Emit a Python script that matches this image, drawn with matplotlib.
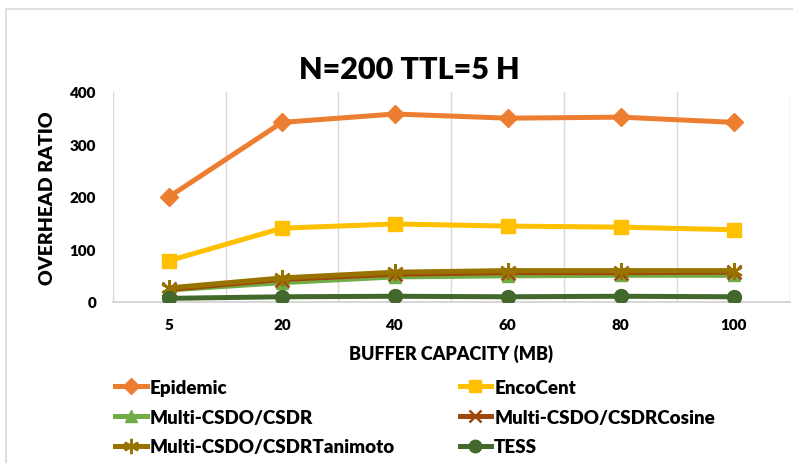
import matplotlib
matplotlib.use("Agg")
import matplotlib.pyplot as plt
from matplotlib.patches import Rectangle
from matplotlib.lines import Line2D

plt.rcParams['font.family'] = ['Lato', 'DejaVu Sans']
plt.rcParams['font.weight'] = 'heavy'

buffer_sizes = ["5", "20", "40", "60", "80", "100"]
epidemic = [200, 342, 358, 350, 352, 342]
encocent = [78, 140, 148, 144, 142, 137]
csdr = [22, 36, 47, 49, 50, 50]
csdr_cosine = [23, 42, 52, 55, 55, 56]
csdr_tanimoto = [26, 45, 56, 59, 59, 59]
tess = [6, 9, 10, 9, 10, 9]

series = [
    ("Epidemic", epidemic, "#ED7D31", "D", 9),
    ("EncoCent", encocent, "#FFC000", "s", 10),
    ("Multi-CSDO/CSDR", csdr, "#70AD47", "^", 9),
    ("Multi-CSDO/CSDRCosine", csdr_cosine, "#9E480E", "x", 10),
    ("Multi-CSDO/CSDRTanimoto", csdr_tanimoto, "#997300", (6, 2, 0), 12),
    ("TESS", tess, "#43682B", "o", 10),
]

fig = plt.figure(figsize=(7.93, 4.64), dpi=100)
fig.patches.append(Rectangle((6 / 793, -0.1), 1.2, 1 - 10 / 464 + 0.1,
                             transform=fig.transFigure, facecolor="none",
                             edgecolor="#D9D9D9", linewidth=1.2))

ax = fig.add_axes([112.7 / 793, 1 - 302.5 / 464, (790 - 112.7) / 793, (302.5 - 93) / 464])
x = list(range(len(buffer_sizes)))


def edge_width(marker):
    return 1.8 if marker in ("x", (6, 2, 0)) else 1


for name, vals, color, marker, ms in series:
    ax.plot(x, vals, color=color, linewidth=3.6, marker=marker, markersize=ms,
            markeredgecolor=color, markeredgewidth=edge_width(marker),
            label=name, solid_capstyle="round", zorder=3)

ax.set_xlim(-0.5, len(buffer_sizes) - 0.5)
ax.set_ylim(0, 400)
ax.set_yticks([0, 100, 200, 300, 400])
ax.set_xticks(x)
ax.set_xticklabels(buffer_sizes)
ax.tick_params(axis="both", length=0, labelsize=11)
ax.tick_params(axis="x", pad=12)
ax.tick_params(axis="y", pad=12)
for lbl in ax.get_xticklabels() + ax.get_yticklabels():
    lbl.set_fontweight("heavy")

for k in range(len(buffer_sizes) + 1):
    ax.axvline(k - 0.5, color="#D9D9D9", linewidth=1, zorder=1)

for side in ("top", "right", "left"):
    ax.spines[side].set_visible(False)
ax.spines["bottom"].set_color("#D0D0D0")
ax.spines["bottom"].set_linewidth(1.2)

ax.set_xlabel("BUFFER CAPACITY (MB)", fontsize=13, fontweight="heavy", labelpad=9)
ax.set_ylabel("OVERHEAD RATIO", fontsize=14, fontweight="heavy", labelpad=10)
fig.text(409 / 793, 1 - 70 / 464, "N=200 TTL=5 H", ha="center", va="center",
         fontsize=22, fontweight="heavy")

# legend is filled column by column, so order entries to read row-wise
order = [0, 2, 4, 1, 3, 5]
handles = []
labels = []
for i in order:
    name, _, c, m, ms = series[i]
    handles.append(Line2D([0], [0], color=c, linewidth=3.6, marker=m, markersize=ms - 1,
                          markeredgecolor=c, markeredgewidth=edge_width(m)))
    labels.append(name)
fig.legend(handles, labels, ncol=2, loc="upper left",
           bbox_to_anchor=(98 / 793, 1 - 363 / 464), frameon=False,
           prop={"size": 13.5, "weight": "heavy"}, handlelength=1.7,
           handletextpad=0.15, columnspacing=3.45, labelspacing=0.68)

fig.savefig("out.png", dpi=100)
